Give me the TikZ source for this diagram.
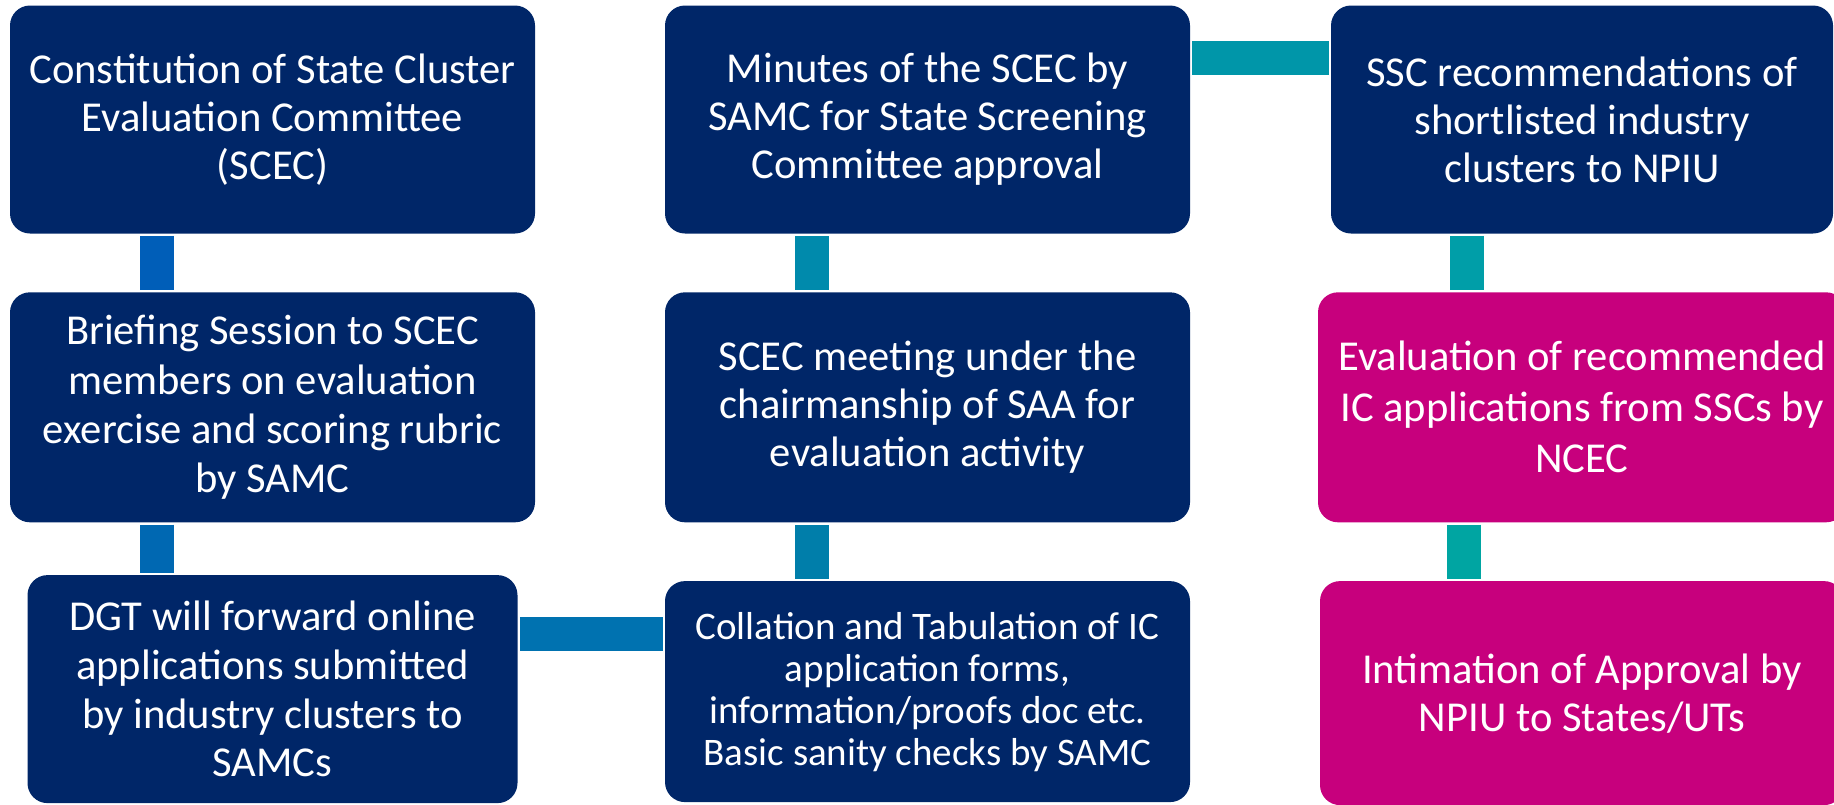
\documentclass[tikz,border=0pt]{standalone}
\usepackage{fontspec}
\setmainfont{Carlito}
\usetikzlibrary{positioning}
\definecolor{navy}{RGB}{0,38,104}
\definecolor{berry}{RGB}{199,0,125}
\definecolor{linkA}{RGB}{0,94,184}
\definecolor{linkB}{RGB}{0,104,178}
\definecolor{linkC}{RGB}{0,114,176}
\definecolor{linkD}{RGB}{0,126,170}
\definecolor{linkE}{RGB}{0,138,172}
\definecolor{linkF}{RGB}{0,150,169}
\definecolor{linkG}{RGB}{0,158,168}
\definecolor{linkH}{RGB}{0,165,162}
\tikzset{
  stage/.style={rectangle, rounded corners=10pt, fill=navy, text=white, align=center,
    minimum width=262.5pt, minimum height=114pt, inner sep=0pt,
    font=\fontsize{21.3}{24}\selectfont},
  approval/.style={stage, fill=berry},
  link/.style={line width=17pt, shorten >=1pt, shorten <=1pt}
}
\begin{document}
\begin{tikzpicture}[x=0.5pt, y=-0.5pt, node distance=29pt]
  \useasboundingbox (0,0) rectangle (1834,804);
  % left column
  \node [stage] (constitution) at (272.5,119.5) {Constitution of State Cluster\\Evaluation Committee\\(SCEC)};
  \node [stage, minimum height=115pt, font=\fontsize{21.3}{24.6}\selectfont] (briefing) [below=of constitution] {Briefing Session to SCEC\\members on evaluation\\exercise and scoring rubric\\by SAMC};
  \node [stage, minimum width=245pt, font=\fontsize{21.3}{24.4}\selectfont] (forward) [below=26pt of briefing] {DGT will forward online\\applications submitted\\by industry clusters to\\SAMCs};
  % middle column
  \node [stage] (minutes) at (927.5,119.5) {Minutes of the SCEC by\\SAMC for State Screening\\Committee approval};
  \node [stage, minimum height=115pt] (meeting) [below=of minutes] {SCEC meeting under the\\chairmanship of SAA for\\evaluation activity};
  \node [stage, minimum height=110.5pt, font=\fontsize{19.5}{21}\selectfont] (collation) [below=of meeting] {Collation and Tabulation of IC\\application forms,\\information/proofs doc etc.\\Basic sanity checks by SAMC};
  % right column
  \node [stage, minimum width=251pt] (recommend) at (1582,119.5) {SSC recommendations of\\shortlisted industry\\clusters to NPIU};
  \node [approval, minimum width=264pt, minimum height=115pt, font=\fontsize{21.3}{25.5}\selectfont] (evaluation) [below=of recommend] {Evaluation of recommended\\IC applications from SSCs by\\NCEC};
  \node [approval, minimum width=262pt, minimum height=112pt] (intimation) [below=of evaluation] {Intimation of Approval by\\NPIU to States/UTs};
  % connectors
  \draw [link, linkA] ([xshift=73.75pt]constitution.south west) coordinate (ca) -- (ca |- briefing.north);
  \draw [link, linkB] ([xshift=73.75pt]briefing.south west) coordinate (cb) -- (cb |- forward.north);
  \draw [link, linkC] ([yshift=-29.5pt]forward.north east) coordinate (cc) -- (cc -| collation.west);
  \draw [link, linkD] ([xshift=73.75pt]collation.north west) coordinate (cd) -- (cd |- meeting.south);
  \draw [link, linkE] ([xshift=73.75pt]meeting.north west) coordinate (ce) -- (ce |- minutes.south);
  \draw [link, linkF] ([yshift=-26.5pt]minutes.north east) coordinate (cf) -- (cf -| recommend.west);
  \draw [link, linkG] ([xshift=68pt]recommend.south west) coordinate (cg) -- (cg |- evaluation.north);
  \draw [link, linkH] ([xshift=73.25pt]evaluation.south west) coordinate (ch) -- (ch |- intimation.north);
\end{tikzpicture}
\end{document}
